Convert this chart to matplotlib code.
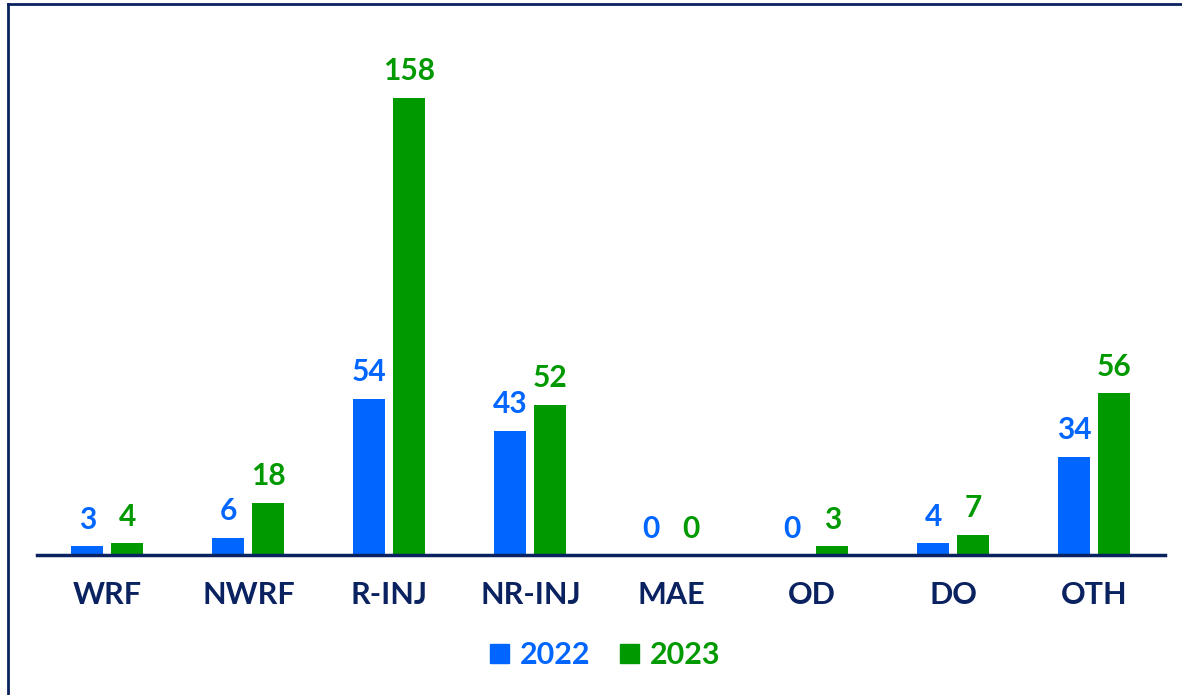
import matplotlib

matplotlib.use("Agg")
import matplotlib.pyplot as plt
import numpy as np
from matplotlib.lines import Line2D
from matplotlib.patches import Patch

categories = ["WRF", "NWRF", "R-INJ", "NR-INJ", "MAE", "OD", "DO", "OTH"]
values_2022 = [3, 6, 54, 43, 0, 0, 4, 34]
values_2023 = [4, 18, 158, 52, 0, 3, 7, 56]
series_labels = ["2022", "2023"]

BLUE = "#0066ff"
GREEN = "#009900"
NAVY = "#0a2260"

plt.rcParams["font.family"] = ["Lato", "DejaVu Sans"]

fig = plt.figure(figsize=(11.82, 6.95), dpi=100)
ax = fig.add_axes([0.0313, 0.2014, 0.954, 0.7077])

x = np.arange(len(categories))
width = 0.227
offset = 0.142
b1 = ax.bar(x - offset, values_2022, width, color=BLUE, zorder=2)
b2 = ax.bar(x + offset, values_2023, width, color=GREEN, zorder=2)

for bars, vals, color in [(b1, values_2022, BLUE), (b2, values_2023, GREEN)]:
    for rect, v in zip(bars, vals):
        ax.annotate(str(v), (rect.get_x() + rect.get_width() / 2, v),
                    xytext=(0, 9), textcoords="offset points",
                    ha="center", va="bottom", fontsize=21.5, fontweight="bold", color=color)

ax.set_xlim(-0.5, 7.5)
ax.set_ylim(0, 170)
ax.set_xticks(x)
ax.set_xticklabels(categories, fontsize=22, fontweight="bold", color=NAVY)
ax.tick_params(axis="x", length=0, pad=19)
ax.set_yticks([])
for side in ["top", "right", "left"]:
    ax.spines[side].set_visible(False)
ax.spines["bottom"].set_color(NAVY)
ax.spines["bottom"].set_linewidth(2.5)
ax.spines["bottom"].set_zorder(3)

handles = [Patch(color=BLUE), Patch(color=GREEN)]
leg = fig.legend(handles, series_labels, loc="center", bbox_to_anchor=(0.512, 0.057),
                 ncol=2, frameon=False, handlelength=0.6, handleheight=0.6,
                 handletextpad=0.35, columnspacing=1.0,
                 prop={"size": 22, "weight": "bold"})
for txt, c in zip(leg.get_texts(), [BLUE, GREEN]):
    txt.set_color(c)

# frame lines on the left and top edges
fig.add_artist(Line2D([0.0068, 0.0068], [0, 0.994], transform=fig.transFigure, color=NAVY, lw=2))
fig.add_artist(Line2D([0.0068, 1], [0.994, 0.994], transform=fig.transFigure, color=NAVY, lw=2))

fig.savefig("out.png", dpi=100)
